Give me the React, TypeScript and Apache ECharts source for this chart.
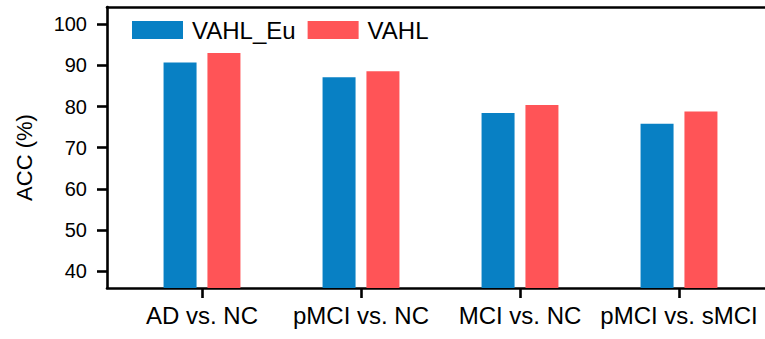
import React, { useEffect, useRef } from "react";
import * as echarts from "echarts";

const categories = ["AD vs. NC", "pMCI vs. NC", "MCI vs. NC", "pMCI vs. sMCI"];
const vahlEu = [90.7, 87.1, 78.4, 75.8];
const vahl = [93.0, 88.6, 80.4, 78.8];
const yTickMin = 40;
const yTickMax = 100;
const yTickStep = 10;

const FONT = "'Liberation Sans', Arial, Helvetica, sans-serif";
const BLUE = "#0880c4";
const RED = "#ff5457";

// value range of the plotting box (the box reaches a little past the outer ticks)
const Y_MIN = 35.87;
const Y_MAX = 104.2;

export default function App() {
  const ref = useRef<HTMLDivElement>(null);

  useEffect(() => {
    document.body.style.margin = "0";
    if (!ref.current) return;
    const chart = echarts.init(ref.current, undefined, { renderer: "svg" });

    const H = 339;
    const W = 765;
    const boxLeft = 107;
    const boxTop = 7;
    const boxBottom = 288;
    const band = 159;
    const firstCenter = 202;
    const barsLeft = firstCenter - band / 2;
    const barsRight = barsLeft + band * categories.length;
    const pxPerUnit = (boxBottom - boxTop) / (Y_MAX - Y_MIN);
    const tickTop = boxTop + (Y_MAX - yTickMax) * pxPerUnit;
    const tickBottom = boxBottom - (yTickMin - Y_MIN) * pxPerUnit;

    const line = () => ({ color: "#000", width: 2.6 });

    chart.setOption({
      animation: false,
      backgroundColor: "#fff",
      textStyle: { fontFamily: FONT },
      grid: [
        // frame: left, bottom and top lines
        { left: boxLeft, right: 0, top: boxTop, bottom: H - boxBottom },
        // bars and category ticks
        { left: barsLeft, right: W - barsRight, top: boxTop, bottom: H - boxBottom },
        // y ticks and labels, 40..100
        { left: boxLeft, right: 0, top: tickTop, bottom: H - tickBottom },
      ],
      legend: {
        left: 127,
        top: 13,
        itemWidth: 51,
        itemHeight: 18,
        itemGap: 12,
        icon: "rect",
        textStyle: { fontSize: 24, color: "#000", fontFamily: FONT, padding: [0, 0, 0, 4] },
        data: ["VAHL_Eu", "VAHL"],
      },
      xAxis: [
        {
          gridIndex: 0,
          type: "value",
          min: 0,
          max: 1,
          position: "bottom",
          splitLine: { show: false },
          axisLine: { show: true, onZero: false, lineStyle: line() },
          axisTick: { show: false },
          axisLabel: { show: false },
        },
        {
          gridIndex: 0,
          type: "value",
          min: 0,
          max: 1,
          position: "top",
          splitLine: { show: false },
          axisLine: { show: true, onZero: false, lineStyle: line() },
          axisTick: { show: false },
          axisLabel: { show: false },
        },
        {
          gridIndex: 1,
          type: "category",
          data: categories,
          boundaryGap: true,
          position: "bottom",
          splitLine: { show: false },
          axisLine: { show: false, onZero: false },
          axisTick: {
            show: true,
            alignWithLabel: true,
            length: 10,
            lineStyle: line(),
          },
          axisLabel: {
            fontSize: 24,
            color: "#000",
            fontFamily: FONT,
            margin: 15,
            interval: 0,
          },
        },
        { gridIndex: 2, type: "value", min: 0, max: 1, show: false },
      ],
      yAxis: [
        {
          gridIndex: 0,
          type: "value",
          min: 0,
          max: 1,
          splitLine: { show: false },
          axisLine: { show: true, onZero: false, lineStyle: line() },
          axisTick: { show: false },
          axisLabel: { show: false },
        },
        { gridIndex: 1, type: "value", min: Y_MIN, max: Y_MAX, show: false },
        {
          gridIndex: 2,
          type: "value",
          min: yTickMin,
          max: yTickMax,
          interval: yTickStep,
          splitLine: { show: false },
          axisLine: { show: false, onZero: false },
          axisTick: { show: true, length: 10, lineStyle: line() },
          axisLabel: {
            fontSize: 20,
            color: "#000",
            fontFamily: FONT,
            margin: 20,
          },
        },
      ],
      graphic: [
        {
          type: "text",
          x: 24,
          y: 157.5,
          rotation: Math.PI / 2,
          style: {
            text: "ACC (%)",
            fontSize: 22,
            fontFamily: FONT,
            fill: "#000",
            align: "center",
            verticalAlign: "middle",
          },
        },
      ],
      series: [
        {
          name: "VAHL_Eu",
          type: "bar",
          xAxisIndex: 2,
          yAxisIndex: 1,
          barWidth: 33,
          barGap: "33%",
          itemStyle: { color: BLUE },
          data: vahlEu,
        },
        {
          name: "VAHL",
          type: "bar",
          xAxisIndex: 2,
          yAxisIndex: 1,
          barWidth: 33,
          barGap: "33%",
          itemStyle: { color: RED },
          data: vahl,
        },
      ],
    });

    return () => chart.dispose();
  }, []);

  return <div ref={ref} style={{ width: 765, height: 339 }} />;
}
